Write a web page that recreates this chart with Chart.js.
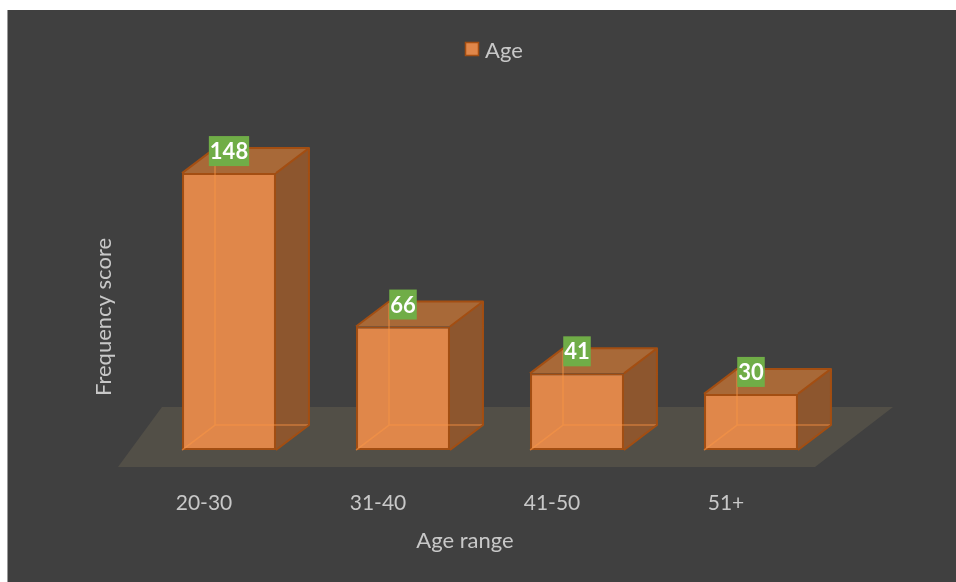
<!DOCTYPE html>
<html>
<head>
<meta charset="utf-8">
<script src="https://cdn.jsdelivr.net/npm/chart.js@4.4.1/dist/chart.umd.min.js"></script>
<style>
  html, body { margin: 0; padding: 0; background: #fff; }
  canvas { display: block; }
</style>
</head>
<body>
<canvas id="ageChart" width="956" height="582"></canvas>
<script>
// values
const ageRanges = ['20-30', '31-40', '41-50', '51+'];
const ageCounts = [148, 66, 41, 30];
const seriesName = 'Age';
const xTitle = 'Age range';
const yTitle = 'Frequency score';

const FRONT = '#e0874a';
const TOP_FACE = '#a86938';
const SIDE_FACE = '#8d562e';
const EDGE = '#a34e12';
const TEXT = '#c8c8c8';
const DX = 33, DY = 25;   // fake 3d depth
const FONT = 'Lato, "Open Sans", sans-serif';

Chart.defaults.font.family = FONT;
Chart.defaults.color = TEXT;

const scenery = {
    id: 'scenery',
    beforeDraw(chart) {
        const ctx = chart.ctx;
        ctx.save();
        ctx.fillStyle = '#fff';
        ctx.fillRect(0, 0, chart.width, chart.height);
        ctx.fillStyle = '#404040';
        ctx.fillRect(8, 10, chart.width - 8, chart.height - 10);
        ctx.fillStyle = '#9a9a9a';
        ctx.fillRect(7, 10, 1, chart.height - 10);
        ctx.restore();
    },
    beforeDatasetsDraw(chart) {
        // floor under the bars
        const { ctx, chartArea: a } = chart;
        const zero = chart.scales.y.getPixelForValue(0);
        ctx.save();
        ctx.fillStyle = '#524f47';
        ctx.beginPath();
        ctx.moveTo(a.left - 24, zero + 17);
        ctx.lineTo(a.right - 23, zero + 17);
        ctx.lineTo(a.right + 55, zero - 43);
        ctx.lineTo(a.left + 20, zero - 43);
        ctx.closePath();
        ctx.fill();
        ctx.restore();
    },
    afterDatasetsDraw(chart) {
        const ctx = chart.ctx;
        const meta = chart.getDatasetMeta(0);
        ctx.save();
        meta.data.forEach((bar, i) => {
            const { x, y, base, width } = bar.getProps(['x', 'y', 'base', 'width'], true);
            const l = x - width / 2, r = x + width / 2;

            // top face
            ctx.fillStyle = TOP_FACE;
            ctx.beginPath();
            ctx.moveTo(l, y); ctx.lineTo(l + DX, y - DY); ctx.lineTo(r + DX, y - DY); ctx.lineTo(r, y);
            ctx.closePath(); ctx.fill();
            // side face
            ctx.fillStyle = SIDE_FACE;
            ctx.beginPath();
            ctx.moveTo(r, y); ctx.lineTo(r + DX, y - DY); ctx.lineTo(r + DX, base - DY); ctx.lineTo(r, base);
            ctx.closePath(); ctx.fill();

            // hidden back edges showing through
            ctx.strokeStyle = 'rgba(250,150,70,0.55)';
            ctx.lineWidth = 1.5;
            ctx.beginPath();
            ctx.moveTo(l + DX, y - DY); ctx.lineTo(l + DX, base - DY);
            ctx.lineTo(r + DX, base - DY);
            ctx.moveTo(l + DX, base - DY); ctx.lineTo(l, base);
            ctx.stroke();

            // outer edges
            ctx.strokeStyle = EDGE;
            ctx.lineWidth = 2;
            ctx.lineJoin = 'round';
            ctx.beginPath();
            ctx.moveTo(l, y); ctx.lineTo(l + DX, y - DY); ctx.lineTo(r + DX, y - DY);
            ctx.lineTo(r + DX, base - DY); ctx.lineTo(r, base);
            ctx.moveTo(r, y); ctx.lineTo(r + DX, y - DY);
            ctx.stroke();

            // green value label
            const txt = String(ageCounts[i]);
            ctx.font = 'bold 22px ' + FONT;
            const w = ctx.measureText(txt).width + 2;
            ctx.fillStyle = '#70ad47';
            ctx.fillRect(x - w / 2, y - 37, w, 30);
            ctx.fillStyle = '#fff';
            ctx.textAlign = 'center';
            ctx.textBaseline = 'middle';
            ctx.fillText(txt, x, y - 21);
        });
        ctx.restore();
    },
    afterDraw(chart) {
        const ctx = chart.ctx;
        const xs = chart.scales.x;
        ctx.save();
        ctx.font = '22px ' + FONT;
        ctx.fillStyle = TEXT;
        ctx.textBaseline = 'middle';
        ctx.textAlign = 'center';
        // x title, shifted with the perspective like the tick labels
        ctx.fillText(xTitle, (xs.left + xs.right) / 2 - 25, 541);

        // legend
        ctx.fillStyle = FRONT;
        ctx.fillRect(465, 42, 14, 14);
        ctx.strokeStyle = EDGE;
        ctx.lineWidth = 1.5;
        ctx.strokeRect(465.5, 42.5, 13, 13);
        ctx.fillStyle = TEXT;
        ctx.textAlign = 'left';
        ctx.fillText(chart.data.datasets[0].label, 485, 51);
        ctx.restore();
    }
};

new Chart(document.getElementById('ageChart'), {
    type: 'bar',
    data: {
        labels: ageRanges,
        datasets: [{
            label: seriesName,
            data: ageCounts,
            backgroundColor: FRONT,
            borderColor: EDGE,
            borderWidth: 2,
            borderSkipped: false,
            categoryPercentage: 0.54,
            barPercentage: 1
        }]
    },
    options: {
        responsive: false,
        animation: false,
        devicePixelRatio: 1,
        layout: { padding: { left: 87, right: 118, top: 148, bottom: 24 } },
        plugins: { legend: { display: false }, tooltip: { enabled: false } },
        scales: {
            x: {
                offset: true,
                grid: { display: false, drawTicks: false },
                border: { display: false },
                ticks: { padding: 5, labelOffset: -25, font: { size: 21 }, color: TEXT },
                afterFit(s) { s.height = 72; }
            },
            y: {
                min: -19.2,
                max: 161.4,
                grid: { display: false, drawTicks: false },
                border: { display: false },
                ticks: { display: false },
                title: { display: true, text: yTitle, font: { size: 22 }, color: TEXT, padding: { top: 4, bottom: 4 } },
                afterFit(s) { s.width = 55; }
            }
        }
    },
    plugins: [scenery]
});
</script>
</body>
</html>
